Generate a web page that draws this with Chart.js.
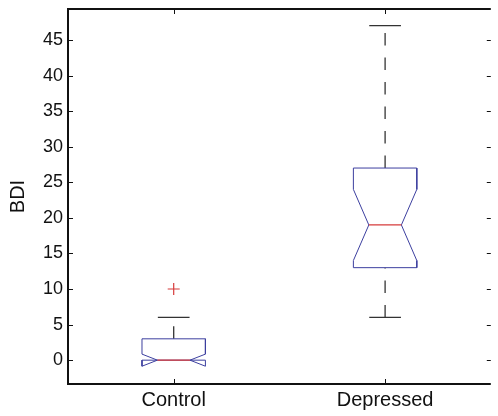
<!DOCTYPE html>
<html>
<head>
<meta charset="utf-8">
<script src="https://cdn.jsdelivr.net/npm/chart.js@4/dist/chart.umd.min.js"></script>
<style>
    body { margin: 0; background: #fff; }
    canvas { display: block; }
</style>
</head>
<body>
<canvas id="boxChart" width="498" height="416"></canvas>
<script>
// Datos del boxplot
const categorias = ["Control", "Depressed"];
const cuartil1 = [0, 13];
const medianas = [0, 19];
const cuartil3 = [3, 27];
const muescaBaja = [-0.85, 14];
const muescaAlta = [0.85, 24];
const bigoteBajo = [0, 6];
const bigoteAlto = [6, 47];
const atipicos = [[10], []];
const ticksY = [0, 5, 10, 15, 20, 25, 30, 35, 40, 45];

// Estilos
const AZUL = "#3c3f9f";
const ROJO = "#d63b3b";
const NEGRO = "#333333";
const MEDIO_CAJA = 0.15;
const MEDIO_MUESCA = 0.077;
const MEDIO_TOPE = 0.075;

function linea(puntos, color, extra) {
    return Object.assign({
        type: "line",
        data: puntos,
        borderColor: color,
        borderWidth: 1,
        pointRadius: 0,
        fill: false,
        tension: 0
    }, extra || {});
}

// Construir datasets a partir de los arreglos
const datasets = [];
categorias.forEach((cat, i) => {
    const x = i + 1;
    // mediana (encima de todo)
    datasets.push(linea([
        { x: x - MEDIO_MUESCA, y: medianas[i] },
        { x: x + MEDIO_MUESCA, y: medianas[i] }
    ], ROJO, { order: 0, borderWidth: 1.3 }));

    // caja con muesca
    datasets.push(linea([
        { x: x - MEDIO_CAJA, y: cuartil1[i] },
        { x: x - MEDIO_CAJA, y: muescaBaja[i] },
        { x: x - MEDIO_MUESCA, y: medianas[i] },
        { x: x - MEDIO_CAJA, y: muescaAlta[i] },
        { x: x - MEDIO_CAJA, y: cuartil3[i] },
        { x: x + MEDIO_CAJA, y: cuartil3[i] },
        { x: x + MEDIO_CAJA, y: muescaAlta[i] },
        { x: x + MEDIO_MUESCA, y: medianas[i] },
        { x: x + MEDIO_CAJA, y: muescaBaja[i] },
        { x: x + MEDIO_CAJA, y: cuartil1[i] },
        { x: x - MEDIO_CAJA, y: cuartil1[i] }
    ], AZUL, { order: 1 }));

    // bigotes punteados
    if (bigoteAlto[i] > cuartil3[i]) {
        datasets.push(linea([
            { x: x, y: cuartil3[i] },
            { x: x, y: bigoteAlto[i] }
        ], NEGRO, { order: 2, borderWidth: 1.3, borderDash: [12.5, 12] }));
        datasets.push(linea([
            { x: x - MEDIO_TOPE, y: bigoteAlto[i] },
            { x: x + MEDIO_TOPE, y: bigoteAlto[i] }
        ], NEGRO, { order: 2, borderWidth: 1.3 }));
    }
    if (bigoteBajo[i] < cuartil1[i]) {
        datasets.push(linea([
            { x: x, y: bigoteBajo[i] },
            { x: x, y: cuartil1[i] }
        ], NEGRO, { order: 2, borderWidth: 1.3, borderDash: [12.5, 12] }));
        datasets.push(linea([
            { x: x - MEDIO_TOPE, y: bigoteBajo[i] },
            { x: x + MEDIO_TOPE, y: bigoteBajo[i] }
        ], NEGRO, { order: 2, borderWidth: 1.3 }));
    }

    // valores atípicos
    if (atipicos[i].length > 0) {
        datasets.push({
            type: "line",
            data: atipicos[i].map(v => ({ x: x, y: v })),
            showLine: false,
            pointStyle: "cross",
            pointRadius: 6,
            pointBorderColor: ROJO,
            pointBorderWidth: 1.2,
            order: 0
        });
    }
});

// Marco y marcas hacia adentro, como en MATLAB
const marcoPlugin = {
    id: "marco",
    afterDraw(chart) {
        const ctx = chart.ctx;
        const a = chart.chartArea;
        const sx = chart.scales.x;
        const sy = chart.scales.y;
        ctx.save();
        ctx.strokeStyle = "#111";
        ctx.lineWidth = 2;
        ctx.beginPath();
        ctx.moveTo(a.right, a.top);
        ctx.lineTo(a.left, a.top);
        ctx.lineTo(a.left, a.bottom);
        ctx.lineTo(a.right, a.bottom);
        ctx.stroke();

        ctx.lineWidth = 1;
        ctx.beginPath();
        sy.ticks.forEach(t => {
            const y = Math.round(sy.getPixelForValue(t.value)) + 0.5;
            ctx.moveTo(a.left, y);
            ctx.lineTo(a.left + 5, y);
            ctx.moveTo(a.right, y);
            ctx.lineTo(a.right - 4, y);
        });
        sx.ticks.forEach(t => {
            const x = Math.round(sx.getPixelForValue(t.value)) + 0.5;
            ctx.moveTo(x, a.bottom);
            ctx.lineTo(x, a.bottom - 5);
            ctx.moveTo(x, a.top);
            ctx.lineTo(x, a.top + 5);
        });
        ctx.stroke();
        ctx.restore();
    }
};

new Chart(document.getElementById("boxChart"), {
    type: "line",
    data: { datasets },
    options: {
        responsive: false,
        animation: false,
        devicePixelRatio: 1,
        layout: { padding: { top: 9, right: 0, left: 0, bottom: 0 } },
        plugins: { legend: { display: false }, tooltip: { enabled: false } },
        scales: {
            x: {
                type: "linear",
                min: 0.5,
                max: 2.5,
                grid: { display: false, drawTicks: false },
                border: { display: false },
                afterBuildTicks: axis => { axis.ticks = categorias.map((c, i) => ({ value: i + 1 })); },
                afterFit: axis => {
                    axis.height = 32;
                    axis.paddingLeft = 0;
                    axis.paddingRight = 0;
                },
                ticks: {
                    padding: 4,
                    color: "#111",
                    font: { family: "Liberation Sans, Arial, sans-serif", size: 20 },
                    callback: v => categorias[v - 1]
                }
            },
            y: {
                type: "linear",
                min: -3.35,
                max: 49.35,
                grid: { display: false, drawTicks: false },
                border: { display: false },
                afterBuildTicks: axis => { axis.ticks = ticksY.map(v => ({ value: v })); },
                afterFit: axis => {
                    axis.width = 68;
                    axis.paddingTop = 0;
                    axis.paddingBottom = 0;
                },
                ticks: {
                    padding: 5,
                    color: "#111",
                    font: { family: "Liberation Sans, Arial, sans-serif", size: 18 }
                },
                title: {
                    display: true,
                    text: "BDI",
                    color: "#111",
                    padding: { top: 6, bottom: 0 },
                    font: { family: "Liberation Sans, Arial, sans-serif", size: 20 }
                }
            }
        }
    },
    plugins: [marcoPlugin]
});
</script>
</body>
</html>
